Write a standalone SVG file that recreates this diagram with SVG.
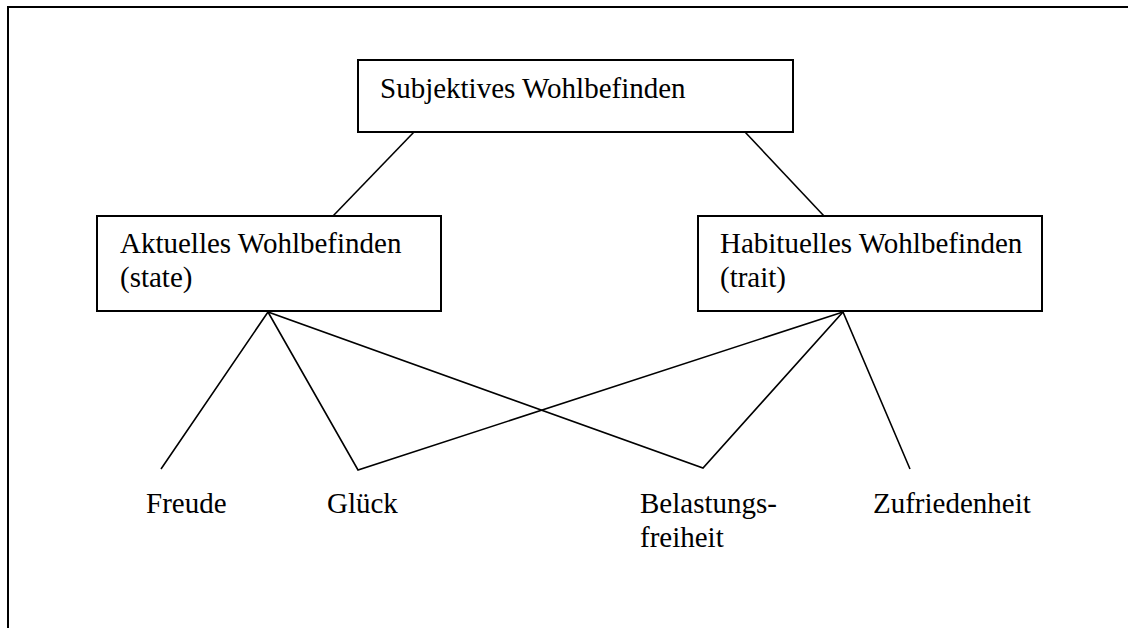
<svg xmlns="http://www.w3.org/2000/svg" width="1128" height="628" viewBox="0 0 1128 628">
  <style>
    .box { fill: #ffffff; stroke: #000000; stroke-width: 2; }
    .frame { fill: none; stroke: #000000; stroke-width: 2; }
    .link { fill: none; stroke: #000000; stroke-width: 1.6; stroke-linejoin: miter; }
    .label { font-family: "Liberation Serif", "Times New Roman", serif; font-size: 29px; fill: #000000; }
  </style>
  <rect width="1128" height="628" fill="#ffffff"/>
  <!-- outer page frame -->
  <path class="frame" d="M8,640 L8,7 L1140,7"/>

  <g id="connectors">
    <line class="link" x1="414" y1="132" x2="333" y2="216"/>
    <line class="link" x1="745" y1="132" x2="824" y2="216"/>
    <polyline class="link" points="161,469 268,312 703,468 843,312 910,469"/>
    <polyline class="link" points="268,312 358,470 843,312"/>
  </g>

  <g id="node-swb">
    <rect class="box" x="358" y="60" width="435" height="72"/>
    <text class="label" x="380" y="98">Subjektives Wohlbefinden</text>
  </g>
  <g id="node-aktuell">
    <rect class="box" x="97" y="216" width="344" height="95"/>
    <text class="label" x="120" y="253">Aktuelles Wohlbefinden</text>
    <text class="label" x="120" y="287">(state)</text>
  </g>
  <g id="node-habituell">
    <rect class="box" x="698" y="216" width="344" height="95"/>
    <text class="label" x="720" y="253">Habituelles Wohlbefinden</text>
    <text class="label" x="720" y="287">(trait)</text>
  </g>
  <g id="node-freude">
    <text class="label" x="146" y="513">Freude</text>
  </g>
  <g id="node-glueck">
    <text class="label" x="327" y="513">Glück</text>
  </g>
  <g id="node-belastung">
    <text class="label" x="640" y="513">Belastungs-</text>
    <text class="label" x="640" y="547">freiheit</text>
  </g>
  <g id="node-zufriedenheit">
    <text class="label" x="873" y="513">Zufriedenheit</text>
  </g>
</svg>
